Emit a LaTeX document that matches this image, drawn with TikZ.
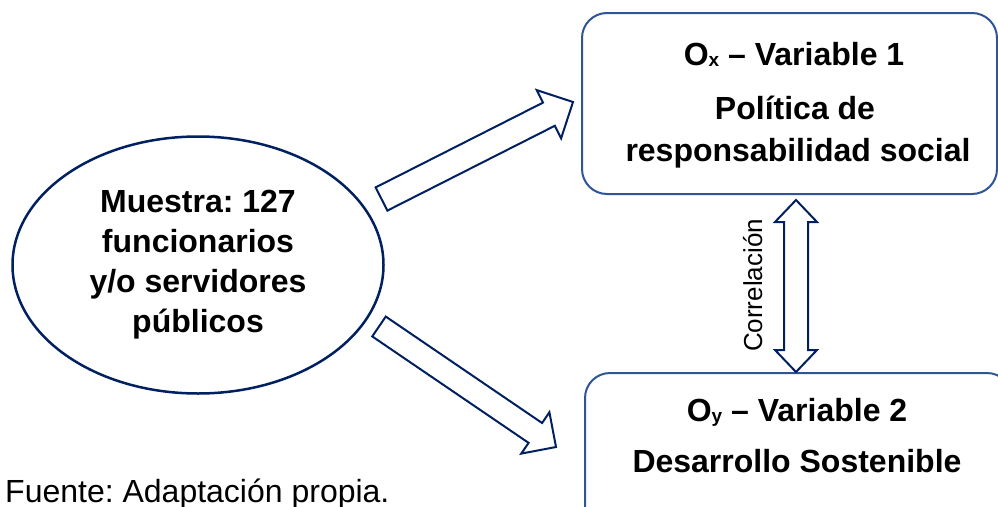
\documentclass[tikz,border=0pt]{standalone}
\usepackage{fontspec}
\setmainfont{Liberation Sans}
\frenchspacing
\usetikzlibrary{calc,shapes.geometric}
\definecolor{navy}{HTML}{002060}
\definecolor{boxblue}{HTML}{2F5597}
\tikzset{
  arrowline/.style={draw=navy, line width=2pt, line join=miter, fill=white},
  panel/.style={draw=boxblue, line width=2pt, rounded corners=25pt, inner sep=0pt, rectangle},
  boldtxt/.style={inner sep=0pt, font=\bfseries\fontsize{32}{40}\selectfont},
  plaintxt/.style={inner sep=0pt, font=\fontsize{32}{38}\selectfont},
}
% tail, tip, half shaft, half head, head length
\newcommand{\blockarrow}[5]{%
  \coordinate (hb) at ($(#2)!#5!(#1)$);
  \draw[arrowline] ($(#1)!#3!90:(#2)$) -- ($(hb)!#3!90:(#2)$) -- ($(hb)!#4!90:(#2)$) -- (#2)
    -- ($(hb)!#4!-90:(#2)$) -- ($(hb)!#3!-90:(#2)$) -- ($(#1)!#3!-90:(#2)$) -- cycle;
}
% end a, end b, half shaft, half head, head length
\newcommand{\doubleblockarrow}[5]{%
  \coordinate (ha) at ($(#1)!#5!(#2)$);
  \coordinate (hz) at ($(#2)!#5!(#1)$);
  \draw[arrowline] (#1) -- ($(ha)!#4!90:(#2)$) -- ($(ha)!#3!90:(#2)$) -- ($(hz)!#3!-90:(#1)$)
    -- ($(hz)!#4!-90:(#1)$) -- (#2) -- ($(hz)!#4!90:(#1)$) -- ($(hz)!#3!90:(#1)$)
    -- ($(ha)!#3!-90:(#2)$) -- ($(ha)!#4!-90:(#2)$) -- cycle;
}
\begin{document}
\begin{tikzpicture}[x=1pt,y=-1pt]
\useasboundingbox (0,0) rectangle (998,506);
\fill[white] (0,0) rectangle (998,506);
\begin{scope}
\clip (0,0) rectangle (998,506);

% sample ellipse
\node[ellipse, draw=navy, line width=2.5pt, minimum width=371pt, minimum height=257pt,
      inner sep=0pt, align=center, font=\bfseries\fontsize{32}{40}\selectfont]
      (sample) at (198,265) {Muestra: 127\\funcionarios\\y/o servidores\\públicos};

% variable boxes
\node[panel, minimum width=415pt, minimum height=181pt] (var1) at (789.5,103.5) {};
\node[panel, minimum width=427pt, minimum height=181pt] (var2) at (798.5,463.5) {};

\node[boldtxt, anchor=base] (var1title) at (794,65)
  {O\raisebox{-1pt}{\fontsize{19}{19}\selectfont x} – Variable 1};
\node[boldtxt, anchor=base] (var1name1) at (795,119) {Política de};
\node[boldtxt, anchor=base] (var1name2) at (798,161) {responsabilidad social};

\node[boldtxt, anchor=base] (var2title) at (797,421)
  {O\raisebox{-1pt}{\fontsize{19}{19}\selectfont y} – Variable 2};
\node[boldtxt, anchor=base] (var2name) at (797,472) {Desarrollo Sostenible};

% block arrows
\coordinate (a1s) at (381.5,199);
\coordinate (a1e) at (573,102);
\coordinate (a2s) at (379,326.5);
\coordinate (a2e) at (556,447);
\coordinate (a3s) at (796,200);
\coordinate (a3e) at (796,372);
\blockarrow{a1s}{a1e}{13pt}{27pt}{27pt}
\blockarrow{a2s}{a2e}{12pt}{25pt}{25pt}
\doubleblockarrow{a3s}{a3e}{12pt}{21pt}{22pt}

\node[rotate=90, anchor=base, inner sep=0pt, font=\fontsize{26}{30}\selectfont]
  (corr) at (762,285.5) {Correlación};

\node[plaintxt, anchor=base west] (source) at (5,502) {Fuente: Adaptación propia.};
\end{scope}
\end{tikzpicture}
\end{document}
